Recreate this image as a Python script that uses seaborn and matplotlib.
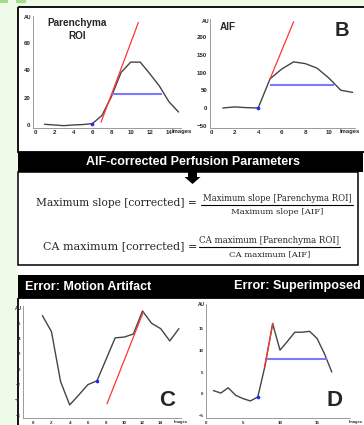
import numpy as np
import pandas as pd
import matplotlib
matplotlib.use("Agg")
import matplotlib.pyplot as plt
import seaborn as sns
from matplotlib.patches import Rectangle, Polygon

# ---------------- data ----------------
roi_images = [1, 2, 3, 4, 5, 6, 7, 8, 9, 10, 11, 12, 13, 14, 15]
roi_au = [0.5, 0, -0.5, 0, 0.3, 1, 7, 21, 38.5, 46, 46, 37.5, 28.5, 17, 9.5]
roi_slope_x = [6.9, 10.8]
roi_slope_y = [2, 75]
roi_half_x = [8, 13.25]
roi_half_y = [22.5, 22.5]
roi_onset_x = [6]
roi_onset_y = [1]

aif_images = [1, 2, 3, 4, 5, 6, 7, 8, 9, 10, 11, 12]
aif_au = [0, 3, 1, 0, 82, 110, 130, 125, 112, 84, 50, 44]
aif_slope_x = [5, 7.0]
aif_slope_y = [82, 243]
aif_half_x = [5, 10.4]
aif_half_y = [65, 65]
aif_onset_x = [4]
aif_onset_y = [0]

mot_images = list(range(1, 17))
mot_au = [7.0, 4.9, -1.6, -4.65, -3.35, -2.0, -1.5, 1.3, 4.1, 4.2, 4.6, 7.6, 6.0, 5.3, 3.7, 5.3]
mot_slope_x = [8.1, 12.1]
mot_slope_y = [-4.5, 7.5]
mot_onset_x = [7]
mot_onset_y = [-1.5]

sup_images = list(range(1, 18))
sup_au = [0.76, 0.2, 1.4, -0.3, -1.07, -1.6, -0.7, 6.6, 16.1, 10, 12, 14.1, 14.1, 14.3, 12.7, 9.2, 5]
sup_slope_x = [7.9, 9.05]
sup_slope_y = [6.2, 16.1]
sup_half_x = [8, 16.4]
sup_half_y = [8, 8]
sup_onset_x = [7]
sup_onset_y = [-0.7]

roi_xticks = [0, 2, 4, 6, 8, 10, 12, 14]
roi_yticks = [0, 20, 40, 60]
aif_xticks = [0, 2, 4, 6, 8, 10]
aif_yticks = [-50, 0, 50, 100, 150, 200]
mot_xticks = [0, 2, 4, 6, 8, 10, 12, 14]
mot_yticks = [-6, -4, -2, 0, 2, 4, 6]
sup_xticks = [0, 5, 10, 15]
sup_yticks = [-5, 0, 5, 10, 15]

# ---------------- figure ----------------
sns.set_theme(style="white")
plt.rcParams['font.family'] = ['Liberation Sans', 'DejaVu Sans']

W, H = 364, 425
fig = plt.figure(figsize=(W / 100, H / 100), dpi=100)
fig.patch.set_facecolor('white')
renderer = fig.canvas.get_renderer()

bg = fig.add_axes([0, 0, 1, 1])
bg.set_xlim(0, W)
bg.set_ylim(H, 0)
bg.axis('off')

GREEN_BG = '#eefbe9'
bg.add_patch(Rectangle((0, 0), W, 7, color=GREEN_BG, lw=0))
bg.add_patch(Rectangle((0, 0), 18, H, color=GREEN_BG, lw=0))
bg.add_patch(Rectangle((0, 0), 8, 2.5, color='#a4de86', lw=0))
bg.add_patch(Rectangle((16, 0), 10, 2.5, color='#a4de86', lw=0))

# boxes
bg.add_patch(Rectangle((18, 7), 352, 145, fill=False, ec='black', lw=1.3))
bg.add_patch(Rectangle((18, 152), 345, 20, color='black', lw=0))
bg.add_patch(Rectangle((18, 172), 340, 93, fill=False, ec='black', lw=1.1))
bg.add_patch(Rectangle((18, 275), 350, 23, color='black', lw=0))
bg.add_patch(Rectangle((18, 298), 350, 135, fill=False, ec='black', lw=1.3))

# arrow
bg.add_patch(Polygon([(188, 172), (197, 172), (197, 177), (200.5, 177), (192.5, 184),
                      (184.5, 177), (188, 177)], closed=True, color='black', lw=0))


def fit_text(t, target_w):
    bb = t.get_window_extent(renderer)
    t.set_fontsize(t.get_fontsize() * target_w / bb.width)
    return t


# header texts
t = bg.text(192.5, 162, "AIF-corrected Perfusion Parameters", color='white', weight='bold',
            ha='center', va='center', fontsize=8)
fit_text(t, 215)
t = bg.text(25, 286.5, "Error: Motion Artifact", color='white', weight='bold',
            ha='left', va='center', fontsize=8)
fit_text(t, 127)
t = bg.text(361, 286.5, "Error: Superimposed", color='white', weight='bold',
            ha='right', va='center', fontsize=8)
fit_text(t, 127)

# formulas
SERIF = ['DejaVu Serif']
t = bg.text(197, 203, "Maximum slope [corrected] =", family=SERIF, ha='right', va='center', fontsize=8)
fit_text(t, 161)
t = bg.text(277, 198.5, "Maximum slope [Parenchyma ROI]", family=SERIF, ha='center', va='center', fontsize=6)
fit_text(t, 151)
t = bg.text(277, 212, "Maximum slope [AIF]", family=SERIF, ha='center', va='center', fontsize=6)
fit_text(t, 93)
bg.plot([201, 353], [205.3, 205.3], color='black', lw=0.8)

t = bg.text(197, 246, "CA maximum [corrected] =", family=SERIF, ha='right', va='center', fontsize=8)
fit_text(t, 153)
t = bg.text(269.5, 240.5, "CA maximum [Parenchyma ROI]", family=SERIF, ha='center', va='center', fontsize=6)
fit_text(t, 141)
t = bg.text(269.5, 254.5, "CA maximum [AIF]", family=SERIF, ha='center', va='center', fontsize=6)
fit_text(t, 82)
bg.plot([199, 340], [247.3, 247.3], color='black', lw=0.8)

CURVE = '#454545'
RED = '#ff3535'
BLUE = '#7a7aff'
DOT = '#2626ff'


def px_rect(left, top, right, bottom):
    return [left / W, 1 - bottom / H, (right - left) / W, (bottom - top) / H]


def panel(rect, xlim, ylim, xs, ys, xticks, yticks, fs, slope=None, half=None, onset=None):
    ax = fig.add_axes(rect)
    ax.patch.set_alpha(0)
    df = pd.DataFrame({'Images': xs, 'AU': ys})
    sns.lineplot(data=df, x='Images', y='AU', ax=ax, color=CURVE, lw=1.0)
    if half is not None:
        ax.plot(half[0], half[1], color=BLUE, lw=1.5, solid_capstyle='butt')
    if slope is not None:
        ax.plot(slope[0], slope[1], color=RED, lw=0.9)
    if onset is not None:
        sns.scatterplot(x=onset[0], y=onset[1], ax=ax, color=DOT, s=7, linewidth=0, zorder=5)
    ax.set_xlim(*xlim)
    ax.set_ylim(*ylim)
    ax.set_xticks(xticks)
    ax.set_yticks(yticks)
    ax.set_xlabel('')
    ax.set_ylabel('')
    for s in ['top', 'right']:
        ax.spines[s].set_visible(False)
    for s in ['left', 'bottom']:
        ax.spines[s].set_color('#8a8a8a')
        ax.spines[s].set_linewidth(0.6)
    ax.tick_params(axis='both', length=1.5, width=0.4, color='#8a8a8a', direction='inout',
                   labelsize=fs, pad=1.2)
    for lab in ax.get_xticklabels() + ax.get_yticklabels():
        lab.set_fontweight('bold')
    return ax


# Panel A: Parenchyma ROI
axA = panel(px_rect(33.1, 15.7, 181.4, 127.7), (-0.2, 15.3), (-2, 80),
            roi_images, roi_au, roi_xticks, roi_yticks, 4.4,
            slope=(roi_slope_x, roi_slope_y), half=(roi_half_x, roi_half_y),
            onset=(roi_onset_x, roi_onset_y))
bg.text(77, 23, "Parenchyma", weight='bold', ha='center', va='center', fontsize=7.2)
bg.text(77, 35.5, "ROI", weight='bold', ha='center', va='center', fontsize=7.2)
bg.text(32, 17, "AU", weight='bold', ha='right', va='center', fontsize=3.8)
bg.text(172, 131.5, "Images", weight='bold', ha='left', va='center', fontsize=4.2)

# Panel B: AIF
axB = panel(px_rect(209.8, 19.3, 355, 127.5), (-0.1, 12.2), (-55, 250),
            aif_images, aif_au, aif_xticks, aif_yticks, 4.4,
            slope=(aif_slope_x, aif_slope_y), half=(aif_half_x, aif_half_y),
            onset=(aif_onset_x, aif_onset_y))
bg.text(228, 27, "AIF", weight='bold', ha='center', va='center', fontsize=7.2)
bg.text(209, 21, "AU", weight='bold', ha='right', va='center', fontsize=3.8)
bg.text(340, 132, "Images", weight='bold', ha='left', va='center', fontsize=4.2)
bg.text(341.5, 30.5, "B", weight='bold', ha='center', va='center', fontsize=14.5)

# Panel C: Motion artifact
axC = panel(px_rect(23, 306.4, 180.7, 418), (-1.13, 16.2), (-6.35, 8.2),
            mot_images, mot_au, mot_xticks, mot_yticks, 3.2,
            slope=(mot_slope_x, mot_slope_y), onset=(mot_onset_x, mot_onset_y))
bg.text(22, 309, "AU", weight='bold', ha='right', va='center', fontsize=3.5)
bg.text(174, 422, "Images", weight='bold', ha='left', va='center', fontsize=3.0)
bg.text(167.5, 401, "C", weight='bold', ha='center', va='center', fontsize=16)

# Panel D: Superimposed
axD = panel(px_rect(206, 304.2, 350.3, 418), (0, 19.5), (-5.5, 20.5),
            sup_images, sup_au, sup_xticks, sup_yticks, 3.2,
            slope=(sup_slope_x, sup_slope_y), half=(sup_half_x, sup_half_y),
            onset=(sup_onset_x, sup_onset_y))
bg.text(205, 305, "AU", weight='bold', ha='right', va='center', fontsize=3.5)
bg.text(362.5, 422, "Images", weight='bold', ha='right', va='center', fontsize=3.0)
bg.text(335, 400, "D", weight='bold', ha='center', va='center', fontsize=16)

fig.savefig("out.png", dpi=100, facecolor='white')
